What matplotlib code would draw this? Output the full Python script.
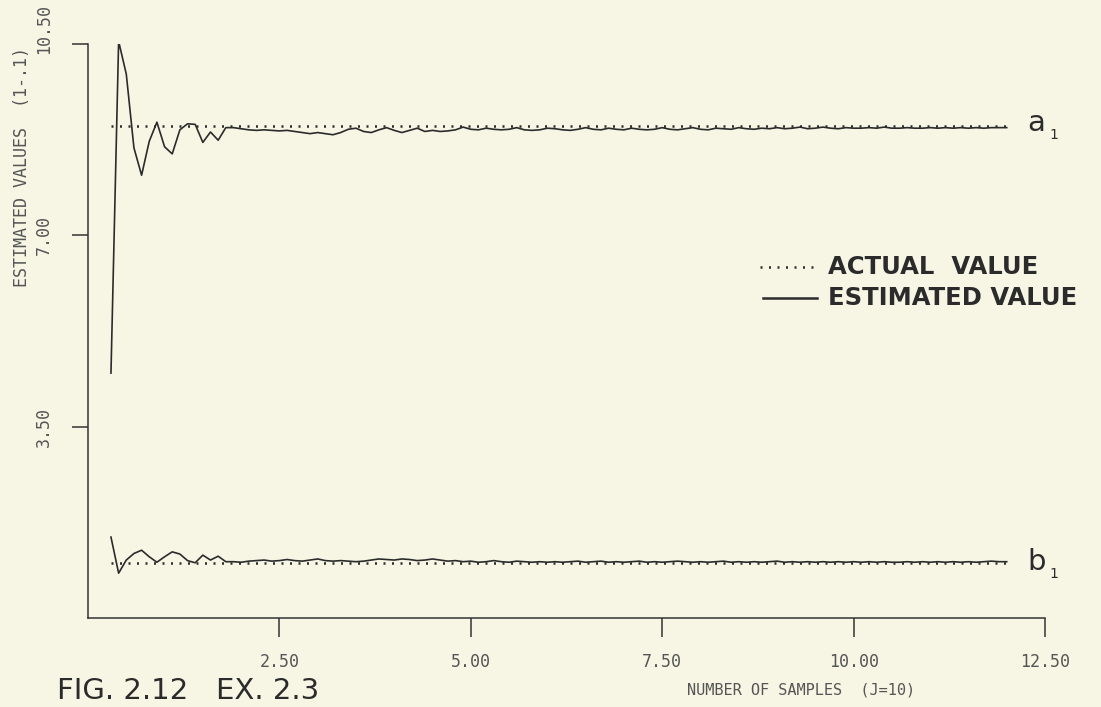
import matplotlib
matplotlib.use('Agg')
import matplotlib.pyplot as plt
import matplotlib.transforms as mtransforms
import numpy as np
from matplotlib.lines import Line2D

# sample positions, in units of J=10 samples
samples = np.arange(3, 121) / 10.0

a1_actual = 9.0
b1_actual = 1.0

a1_est = [
    4.48, 10.55, 9.95, 8.60, 8.10, 8.72, 9.07, 8.62, 8.49, 8.93,
    9.04, 9.03, 8.70, 8.89, 8.74, 8.97, 8.97, 8.95, 8.93, 8.92,
    8.93, 8.92, 8.91, 8.92, 8.90, 8.88, 8.86, 8.88, 8.86, 8.84,
    8.88, 8.94, 8.96, 8.90, 8.88, 8.93, 8.97, 8.92, 8.88, 8.92,
    8.96, 8.90, 8.92, 8.90, 8.91, 8.93, 8.98, 8.94, 8.93, 8.96,
    8.94, 8.93, 8.94, 8.97, 8.93, 8.92, 8.93, 8.96, 8.95, 8.93,
    8.92, 8.94, 8.97, 8.94, 8.93, 8.96, 8.94, 8.93, 8.96, 8.94,
    8.93, 8.94, 8.97, 8.94, 8.93, 8.95, 8.97, 8.94, 8.93, 8.96,
    8.95, 8.94, 8.97, 8.95, 8.94, 8.96, 8.95, 8.97, 8.95, 8.96,
    8.98, 8.95, 8.96, 8.98, 8.96, 8.95, 8.97, 8.96, 8.96, 8.97,
    8.96, 8.98, 8.96, 8.96, 8.97, 8.96, 8.96, 8.97, 8.96, 8.97,
    8.96, 8.97, 8.96, 8.97, 8.96, 8.97, 8.97, 8.97,
]

b1_est = [
    1.48, 0.82, 1.06, 1.18, 1.24, 1.12, 1.02, 1.12, 1.21, 1.17,
    1.05, 1.01, 1.15, 1.06, 1.13, 1.03, 1.03, 1.02, 1.04, 1.05,
    1.06, 1.04, 1.05, 1.07, 1.05, 1.04, 1.06, 1.08, 1.05, 1.04,
    1.05, 1.04, 1.03, 1.04, 1.06, 1.08, 1.07, 1.06, 1.08, 1.07,
    1.05, 1.06, 1.08, 1.06, 1.04, 1.05, 1.03, 1.04, 1.02, 1.03,
    1.05, 1.03, 1.02, 1.04, 1.03, 1.02, 1.03, 1.02, 1.03, 1.02,
    1.03, 1.04, 1.02, 1.03, 1.04, 1.02, 1.03, 1.02, 1.03, 1.04,
    1.02, 1.03, 1.02, 1.03, 1.04, 1.03, 1.02, 1.03, 1.02, 1.03,
    1.04, 1.02, 1.03, 1.02, 1.03, 1.02, 1.03, 1.04, 1.02, 1.03,
    1.02, 1.03, 1.02, 1.03, 1.02, 1.03, 1.02, 1.03, 1.02, 1.03,
    1.02, 1.03, 1.02, 1.02, 1.03, 1.02, 1.03, 1.02, 1.03, 1.02,
    1.03, 1.02, 1.03, 1.02, 1.03, 1.04, 1.03, 1.03,
]

x_ticks = [2.5, 5.0, 7.5, 10.0, 12.5]
x_ticklabels = ['2.50', '5.00', '7.50', '10.00', '12.50']
y_ticks = [3.5, 7.0, 10.5]
y_ticklabels = ['3.50', '7.00', '10.50']

paper = '#f7f6e5'
ink = '#2b2b2b'
mono = 'DejaVu Sans Mono'
dots = (0, (0.8, 2.6))

W, H = 1101, 707
fig = plt.figure(figsize=(W / 100, H / 100), dpi=100, facecolor=paper)
ax = fig.add_axes([88 / W, 1 - 618 / H, (1045 - 88) / W, (618 - 44) / H])
ax.set_facecolor(paper)

# actual values (dotted) and estimates (solid)
ax.plot([samples[0], samples[-1]], [a1_actual, a1_actual], color=ink, lw=1.8, linestyle=dots)
ax.plot([samples[0], samples[-1]], [b1_actual, b1_actual], color=ink, lw=1.8, linestyle=dots)
ax.plot(samples, a1_est, color=ink, lw=1.2)
ax.plot(samples, b1_est, color=ink, lw=1.2)

ax.set_xlim(0, 12.5)
ax.set_ylim(0, 10.5)
for side in ['top', 'right']:
    ax.spines[side].set_visible(False)
for side in ['left', 'bottom']:
    ax.spines[side].set_color('#333333')
    ax.spines[side].set_linewidth(1.1)

ax.set_xticks(x_ticks)
ax.set_xticklabels(x_ticklabels, family=mono, fontsize=12, color='#555555')
ax.set_yticks(y_ticks)
ax.set_yticklabels(y_ticklabels, family=mono, fontsize=12, color='#555555',
                   rotation=90, va='center')
ax.tick_params(axis='x', direction='out', length=14, width=1.1, color='#333333', pad=11)
ax.tick_params(axis='y', direction='out', length=11.5, width=1.1, color='#333333', pad=14)

# top y label sits a little above its tick in the original
top_label = ax.get_yticklabels()[-1]
top_label.set_transform(top_label.get_transform() +
                        mtransforms.ScaledTranslation(0, 15 / 100, fig.dpi_scale_trans))

# axis titles
fig.text(22 / W, 1 - 167 / H, 'ESTIMATED VALUES  (1-.1)', family=mono, fontsize=12,
         color='#555555', rotation=90, ha='center', va='center')
fig.text(801 / W, 1 - 690 / H, 'NUMBER OF SAMPLES  (J=10)', family=mono, fontsize=11,
         color='#555555', ha='center', va='center')

# legend
fig.add_artist(Line2D([760 / W, 817 / W], [1 - 267 / H, 1 - 267 / H], color=ink,
                      lw=1.8, linestyle=dots, transform=fig.transFigure))
fig.add_artist(Line2D([763 / W, 817 / W], [1 - 298 / H, 1 - 298 / H], color=ink,
                      lw=1.8, transform=fig.transFigure))
fig.text(828 / W, 1 - 267 / H, 'ACTUAL  VALUE', fontsize=17.5, fontweight='bold',
         color=ink, ha='left', va='center')
fig.text(828 / W, 1 - 298 / H, 'ESTIMATED VALUE', fontsize=17.5, fontweight='bold',
         color=ink, ha='left', va='center')

# series labels
fig.text(1027 / W, 1 - 131 / H, 'a', fontsize=21, color=ink, ha='left', va='baseline')
fig.text(1049 / W, 1 - 139 / H, '1', fontsize=10, color=ink, ha='left', va='baseline')
fig.text(1027 / W, 1 - 570 / H, 'b', fontsize=21, color=ink, ha='left', va='baseline')
fig.text(1049 / W, 1 - 578 / H, '1', fontsize=10, color=ink, ha='left', va='baseline')

# figure caption
fig.text(57 / W, 1 - 699 / H, 'FIG. 2.12   EX. 2.3', fontsize=21, color=ink,
         ha='left', va='baseline')

fig.savefig('out.png', dpi=100, facecolor=paper)
